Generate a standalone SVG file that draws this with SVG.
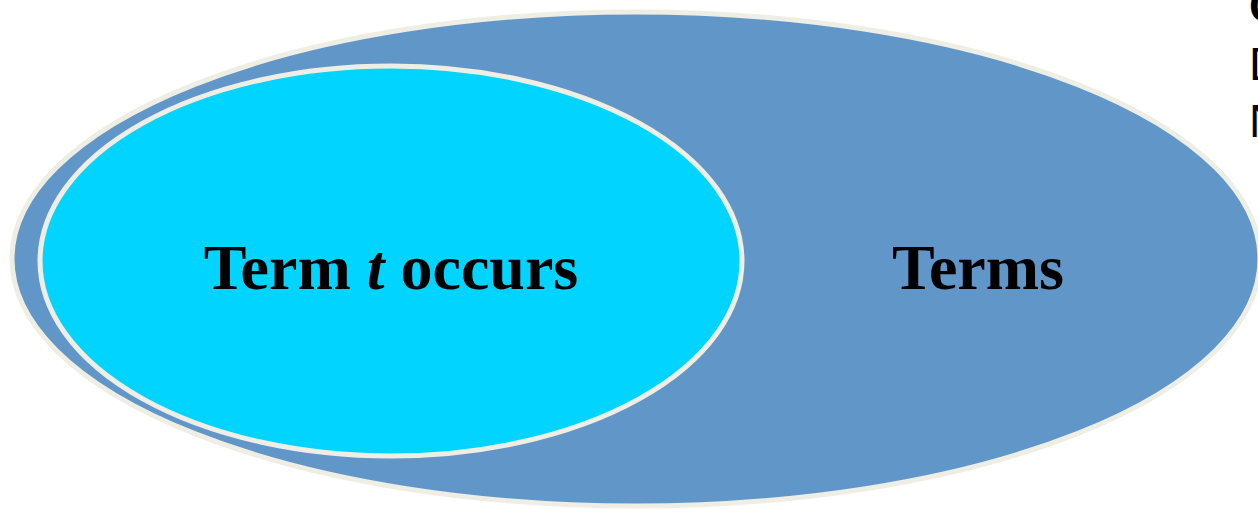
<svg xmlns="http://www.w3.org/2000/svg" width="1258" height="509" viewBox="0 0 1258 509">
<style>
.set{stroke:#efeee5;stroke-width:5}
.lbl{font-family:"Liberation Serif",serif;font-weight:bold;font-size:64px;fill:#000;text-anchor:middle}
.side{font-family:"Liberation Sans",sans-serif;font-size:46px;fill:#000}
</style>
<rect width="1258" height="509" fill="#fff"/>
<g id="terms">
<ellipse class="set" cx="636" cy="259" rx="624" ry="247" fill="#6096c8"/>
<text class="lbl" x="978" y="289">Terms</text>
</g>
<g id="term-t-occurs">
<ellipse class="set" cx="391" cy="261" rx="351" ry="195" fill="#00d4ff" stroke-width="4"/>
<text class="lbl" x="391" y="289">Term <tspan font-style="italic">t</tspan> occurs</text>
</g>
<g id="connectors"/>
<g id="side-text">
<text class="side" x="1249" y="22" font-weight="bold">C</text>
<text class="side" x="1249" y="80">D</text>
<text class="side" x="1249" y="137">N</text>
</g>
</svg>
